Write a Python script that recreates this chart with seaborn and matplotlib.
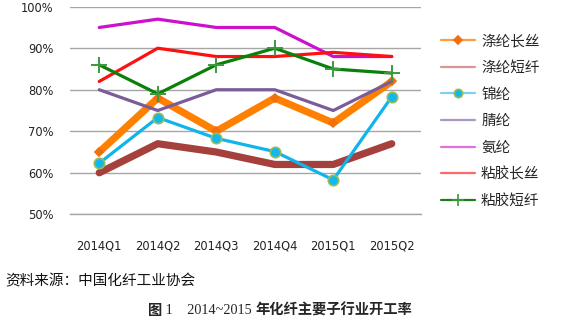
import matplotlib
matplotlib.use("Agg")
import matplotlib.pyplot as plt
from matplotlib.lines import Line2D
import seaborn as sns
import pandas as pd

sns.set_style("white")
plt.rcParams['font.family'] = ['DejaVu Sans', 'Noto Sans CJK SC']

quarters = ["2014Q1", "2014Q2", "2014Q3", "2014Q4", "2015Q1", "2015Q2"]
polyester_filament = [65, 78, 70, 78, 72, 82]
polyester_staple = [60, 67, 65, 62, 62, 67]
nylon = [62.3, 73.3, 68.3, 65.1, 58.3, 78.3]
acrylic = [80, 75, 80, 80, 75, 82]
spandex = [95, 97, 95, 95, 88, 88]
viscose_filament = [82, 90, 88, 88, 89, 88]
viscose_staple = [86, 79, 86, 90, 85, 84]

series_names = ["涤纶长丝", "涤纶短纤", "锦纶", "腈纶", "氨纶", "粘胶长丝", "粘胶短纤"]
series_values = [polyester_filament, polyester_staple, nylon, acrylic,
                 spandex, viscose_filament, viscose_staple]

# style per series: line colour, width, marker, marker face, marker edge, marker size
styles = [
    dict(color="#FF8000", lw=5.2, marker="D", mfc="#F07010", mec="#F07010", ms=4.5),
    dict(color="#A5403C", lw=5.2, marker=None),
    dict(color="#10B4EC", lw=2.3, marker="o", mfc="#10B8EE", mec="#9BBB59", ms=7.5),
    dict(color="#7A5C98", lw=2.3, marker=None),
    dict(color="#CC10CC", lw=2.3, marker=None),
    dict(color="#FF1010", lw=2.3, marker=None),
    dict(color="#0A800A", lw=2.3, marker="+", mfc="#4AA84A", mec="#3C9A3C", ms=11),
]
legend_colors = ["#FF9A40", "#D99694", "#7DD0F0", "#A898C4", "#E070E0", "#FF6868", "#207A20"]

fig = plt.figure(figsize=(5.65, 3.33), dpi=100)
ax = fig.add_axes([70 / 565, 1 - 214.3 / 333, 351 / 565, 207.6 / 333])

for name, vals, st in zip(series_names, series_values, styles):
    df = pd.DataFrame({"quarter": quarters, "rate": vals})
    kw = {}
    if st["marker"]:
        kw = dict(marker=st["marker"], markerfacecolor=st["mfc"],
                  markeredgecolor=st["mec"], markersize=st["ms"],
                  markeredgewidth=1.2 if st["marker"] != "+" else 1.4)
    sns.lineplot(data=df, x="quarter", y="rate", ax=ax, color=st["color"],
                 linewidth=st["lw"], sort=False, legend=False,
                 solid_capstyle="round", solid_joinstyle="round", **kw)

ax.set_xlim(-0.5, 5.5)
ax.set_ylim(50, 100)
ax.set_yticks([50, 60, 70, 80, 90, 100])
ax.set_yticklabels([f"{v}%" for v in [50, 60, 70, 80, 90, 100]])
ax.set_xticks(range(len(quarters)))
ax.set_xticklabels(quarters)
ax.set_xticks([i - 0.5 for i in range(len(quarters) + 1)], minor=True)
ax.set_xlabel("")
ax.set_ylabel("")
ax.grid(axis="y", color="#A6A6A6", linewidth=1.0)
ax.set_axisbelow(True)
for side in ["top", "right", "left"]:
    ax.spines[side].set_visible(False)
ax.spines["bottom"].set_color("#A6A6A6")
ax.spines["bottom"].set_linewidth(1.0)
ax.tick_params(axis="y", length=0, pad=12, labelsize=8.3, labelcolor="#222222")
ax.tick_params(axis="x", which="major", length=0, pad=18, labelsize=8.3, labelcolor="#222222")
ax.tick_params(axis="x", which="minor", length=4, width=1.0, color="#A6A6A6", direction="out")

handles = []
for st, lc in zip(styles, legend_colors):
    if st["marker"]:
        h = Line2D([], [], color=lc, lw=1.6, marker=st["marker"],
                   markerfacecolor=st["mfc"], markeredgecolor=st["mec"],
                   markersize=st["ms"] * 0.8, markeredgewidth=1.2)
    else:
        h = Line2D([], [], color=lc, lw=1.6)
    handles.append(h)

fig.legend(handles, series_names, loc="upper left",
           bbox_to_anchor=(441 / 565, 1 - 34.5 / 333), frameon=False,
           prop={"family": ["Noto Sans CJK SC"], "size": 10.5},
           handlelength=2.3, handletextpad=0.45, labelspacing=0.86,
           borderpad=0, borderaxespad=0)

fig.text(5 / 565, 1 - 281 / 333, "资料来源：中国化纤工业协会", ha="left", va="center",
         family=["Noto Sans CJK SC"], fontsize=10.5, color="#111111")

t1 = fig.text(148 / 565, 1 - 311 / 333, "图", ha="left", va="center",
              family=["Noto Sans CJK SC"], fontsize=10.3, fontweight="bold")
t2 = ax.annotate(" 1    2014~2015 ", xy=(1, 0.5), xycoords=t1, ha="left", va="center",
                 family=["Liberation Serif"], fontsize=10.3, annotation_clip=False)
ax.annotate("年化纤主要子行业开工率", xy=(1, 0.5), xycoords=t2, ha="left", va="center",
            family=["Noto Sans CJK SC"], fontsize=10.3, fontweight="bold",
            annotation_clip=False)

fig.savefig("out.png", dpi=100)
